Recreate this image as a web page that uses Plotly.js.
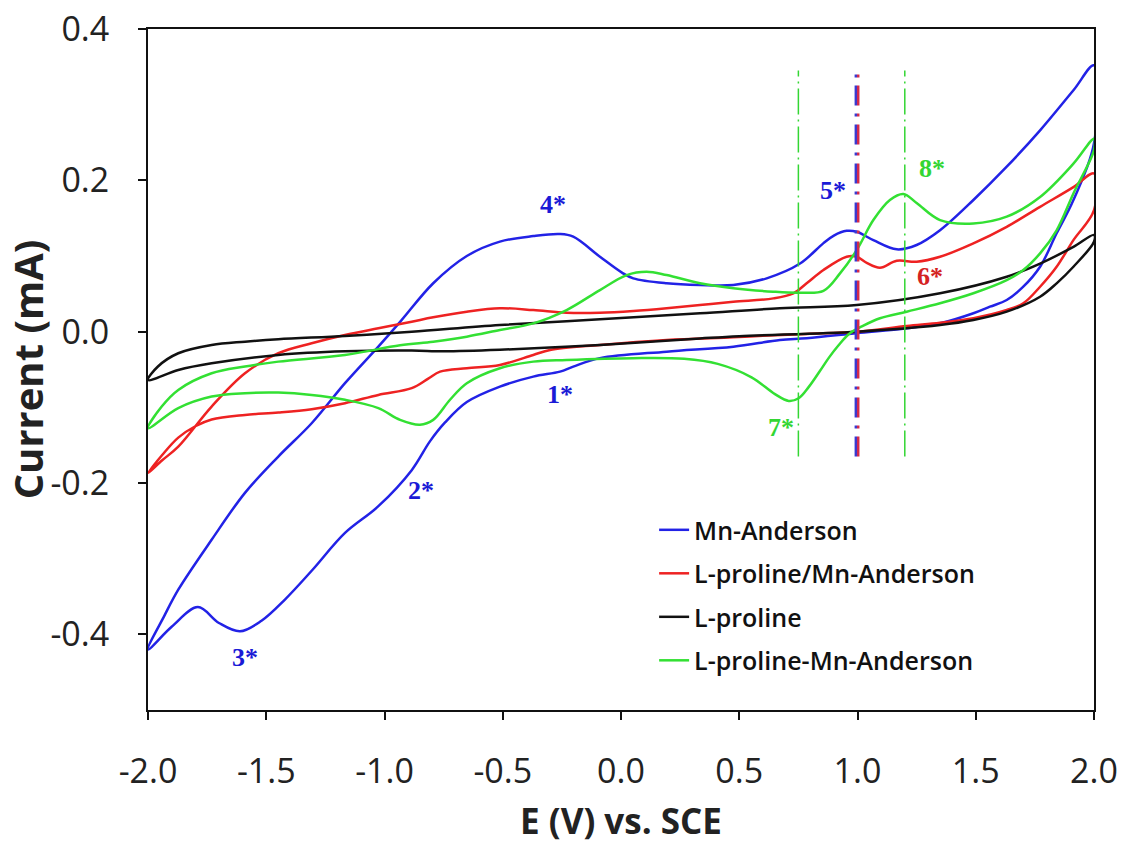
<!DOCTYPE html>
<html>
<head>
<meta charset="utf-8">
<script src="https://cdn.plot.ly/plotly-3.0.1.min.js"></script>
<style>html,body{margin:0;padding:0;background:#fff;}#chart{width:1125px;height:846px;}</style>
</head>
<body>
<div id="chart"></div>
<script>
// ---- Data (E in V vs. SCE, current in mA); each CV is a closed loop: forward scan then reverse scan
const seriesNames = ["Mn-Anderson", "L-proline/Mn-Anderson", "L-proline", "L-proline-Mn-Anderson"];
const seriesColors = ["#2222e6", "#ee2222", "#111111", "#33e033"];

const mnE = [-2.0,-1.93,-1.872,-1.731,-1.59,-1.449,-1.308,-1.167,-1.027,-0.934,-0.794,-0.652,-0.512,-0.371,-0.258,-0.202,-0.089,0.004,0.052,0.193,0.334,0.475,0.616,0.757,0.855,0.9,0.954,0.997,1.067,1.166,1.25,1.349,1.49,1.631,1.772,1.913,2.0,
             2.0,1.913,1.842,1.772,1.701,1.631,1.56,1.49,1.349,1.208,0.997,0.785,0.672,0.475,0.193,-0.089,-0.202,-0.258,-0.371,-0.512,-0.652,-0.744,-0.808,-0.885,-1.027,-1.167,-1.308,-1.421,-1.52,-1.611,-1.70,-1.789,-1.9,-2.0];
const mnI = [-0.42,-0.375,-0.341,-0.275,-0.213,-0.165,-0.121,-0.068,-0.02,0.013,0.064,0.1,0.119,0.1263,0.129,0.1255,0.099,0.078,0.0705,0.064,0.0617,0.0617,0.0705,0.09,0.1167,0.127,0.1333,0.132,0.121,0.1088,0.1145,0.134,0.174,0.218,0.266,0.319,0.352,
             0.249,0.174,0.13,0.0858,0.0594,0.0418,0.033,0.0243,0.011,0.0045,-0.002,-0.0087,-0.011,-0.0198,-0.0264,-0.035,-0.0462,-0.0528,-0.0594,-0.0726,-0.093,-0.12,-0.145,-0.183,-0.231,-0.266,-0.316,-0.354,-0.382,-0.396,-0.385,-0.364,-0.39,-0.42];

const lpmE = [-2.0,-1.94,-1.872,-1.731,-1.59,-1.449,-1.308,-1.167,-1.026,-0.885,-0.794,-0.652,-0.512,-0.371,-0.23,-0.089,0.052,0.193,0.334,0.475,0.644,0.729,0.785,0.856,0.954,0.997,1.039,1.095,1.166,1.25,1.349,1.49,1.631,1.772,1.913,2.0,
              2.0,1.913,1.842,1.772,1.701,1.631,1.49,1.349,1.208,0.997,0.785,0.6,0.475,0.193,-0.089,-0.3,-0.371,-0.512,-0.652,-0.765,-0.815,-0.885,-1.026,-1.167,-1.308,-1.449,-1.59,-1.731,-1.80,-1.872,-1.94,-2.0];
const lpmI = [-0.187,-0.17,-0.152,-0.099,-0.055,-0.0285,-0.0153,-0.0044,0.0045,0.0132,0.019,0.0264,0.0309,0.0286,0.025,0.025,0.0273,0.0309,0.0352,0.0396,0.044,0.0507,0.0639,0.0815,0.099,0.099,0.091,0.0845,0.0937,0.0924,0.099,0.1167,0.1386,0.165,0.191,0.209,
              0.1607,0.121,0.0858,0.0594,0.0375,0.0286,0.0177,0.0119,0.0075,0.0,-0.003,-0.0055,-0.0075,-0.011,-0.0176,-0.0242,-0.0308,-0.044,-0.0483,-0.0528,-0.062,-0.0747,-0.0836,-0.0945,-0.1024,-0.1069,-0.11,-0.116,-0.125,-0.14,-0.163,-0.187];

const lpE = [-2.0,-1.958,-1.872,-1.731,-1.59,-1.449,-1.167,-0.885,-0.512,-0.089,0.334,0.672,0.997,1.349,1.631,1.772,1.913,2.0,
             2.0,1.913,1.842,1.772,1.631,1.49,1.349,0.997,0.5,0.334,-0.089,-0.512,-0.75,-0.885,-1.167,-1.449,-1.731,-1.872,-2.0];
const lpI = [-0.0638,-0.046,-0.0285,-0.0176,-0.0132,-0.01,-0.0057,0.0,0.0088,0.0163,0.0242,0.0309,0.0352,0.0507,0.0726,0.09,0.112,0.1277,
             0.119,0.0858,0.0639,0.0462,0.0264,0.0154,0.0088,0.0,-0.006,-0.009,-0.0175,-0.024,-0.026,-0.025,-0.026,-0.0308,-0.0418,-0.0506,-0.0638];

const lpmaE = [-2.0,-1.942,-1.872,-1.731,-1.59,-1.449,-1.167,-0.934,-0.794,-0.652,-0.512,-0.371,-0.23,-0.089,0.024,0.108,0.193,0.334,0.475,0.644,0.757,0.856,0.926,0.997,1.067,1.137,1.194,1.25,1.349,1.49,1.631,1.772,1.913,2.0,
               2.0,1.913,1.842,1.772,1.701,1.631,1.49,1.349,1.208,1.095,1.025,0.964,0.92,0.88,0.841,0.794,0.751,0.709,0.651,0.552,0.409,0.267,0.05,-0.23,-0.371,-0.512,-0.652,-0.723,-0.794,-0.85,-0.934,-1.026,-1.167,-1.308,-1.449,-1.59,-1.731,-1.872,-2.0];
const lpmaI = [-0.1276,-0.099,-0.077,-0.055,-0.046,-0.0396,-0.0308,-0.018,-0.0132,-0.0066,0.0022,0.011,0.0286,0.055,0.0748,0.0792,0.0748,0.0639,0.0573,0.0528,0.0515,0.054,0.077,0.108,0.1475,0.174,0.182,0.17,0.1475,0.143,0.152,0.178,0.222,0.255,
               0.24,0.1827,0.134,0.1035,0.0815,0.068,0.0507,0.0375,0.0264,0.0177,0.008,-0.003,-0.018,-0.034,-0.052,-0.073,-0.088,-0.0915,-0.0826,-0.0603,-0.0426,-0.0359,-0.035,-0.0374,-0.0396,-0.0483,-0.0681,-0.09,-0.1166,-0.123,-0.1166,-0.101,-0.09,-0.0836,-0.0805,-0.0813,-0.0858,-0.101,-0.1276];

// Peak labels
const peakLabels = ["1*","2*","3*","4*","5*","6*","7*","8*"];
const peakE      = [-0.258,-0.846,-1.59,-0.287,0.897,1.307,0.677,1.315];
const peakI      = [-0.083,-0.21,-0.43,0.168,0.186,0.0735,-0.126,0.215];
const peakColors = ["#1a1ad6","#1a1ad6","#1a1ad6","#1a1ad6","#1a1ad6","#d42222","#33d633","#33d633"];

// Vertical dash-dot guide lines at peak potentials
const guideE      = [0.75, 1.2, 0.993, 1.003];
const guideColors = ["#33d633", "#33d633", "#3a3ad0", "#d42a4a"];
const guideRange  = [-0.165, 0.345];

const xTicks = [-2.0,-1.5,-1.0,-0.5,0.0,0.5,1.0,1.5,2.0];
const xTickLabels = ["-2.0","-1.5","-1.0","-0.5","0.0","0.5","1.0","1.5","2.0"];
const yTicks = [-0.4,-0.2,0.0,0.2,0.4];
const yTickLabels = ["-0.4","-0.2","0.0","0.2","0.4"];

// ---- Traces
const allE = [mnE, lpmE, lpE, lpmaE];
const allI = [mnI, lpmI, lpI, lpmaI];
const traces = seriesNames.map((n, k) => ({
  x: allE[k], y: allI[k], name: n, type: "scatter", mode: "lines",
  legendgroup: "g" + k,
  line: {color: seriesColors[k], width: 2.5, shape: "spline", smoothing: 1.0}
}));

const shapes = guideE.map((e, k) => ({
  type: "line", xref: "x", yref: "y", x0: e, x1: e, y0: guideRange[0], y1: guideRange[1],
  line: {color: guideColors[k], width: k < 2 ? 1.5 : 2.5, dash: k < 2 ? "26px,5px,2px,5px" : "20px,8px,3px,8px"},
  layer: "above"
}));

const annotations = peakLabels.map((t, k) => ({
  x: peakE[k], y: peakI[k], xref: "x", yref: "y", text: t, showarrow: false,
  font: {family: "Liberation Serif, Times New Roman, serif", size: 26, color: peakColors[k], weight: 700}
}));

const tickFont = {family: "Open Sans, sans-serif", size: 34, color: "#222"};
const layout = {
  width: 1125, height: 846,
  margin: {l: 148, r: 31, t: 29, b: 136, pad: 0},
  paper_bgcolor: "#fff", plot_bgcolor: "#fff",
  showlegend: true,
  legend: {
    x: 0.535, y: 0.298, xanchor: "left", yanchor: "top",
    bgcolor: "rgba(255,255,255,0)", borderwidth: 0,
    font: {family: "Open Sans, sans-serif", size: 25, color: "#111", weight: 600},
    tracegroupgap: 8, traceorder: "grouped"
  },
  xaxis: {
    range: [-2.0, 2.0], tickvals: xTicks, ticktext: xTickLabels,
    ticks: "outside", ticklen: 8, tickwidth: 2, tickcolor: "#111",
    showline: true, linewidth: 2, linecolor: "#111", mirror: true,
    showgrid: false, zeroline: false, tickfont: tickFont, ticklabelstandoff: 22,
    title: {text: "E (V) vs. SCE", font: {family: "Open Sans, sans-serif", size: 35, color: "#222", weight: 700}, standoff: 18}
  },
  yaxis: {
    range: [-0.5, 0.4], tickvals: yTicks, ticktext: yTickLabels,
    ticks: "outside", ticklen: 8, tickwidth: 2, tickcolor: "#111",
    showline: true, linewidth: 2, linecolor: "#111", mirror: true,
    showgrid: false, zeroline: false, tickfont: tickFont, ticklabelstandoff: 22,
    title: {text: "Current (mA)", font: {family: "Open Sans, sans-serif", size: 40, color: "#222", weight: 700}, standoff: 4}
  },
  shapes: shapes,
  annotations: annotations
};

Plotly.newPlot("chart", traces, layout, {displayModeBar: false, staticPlot: true});
</script>
</body>
</html>
